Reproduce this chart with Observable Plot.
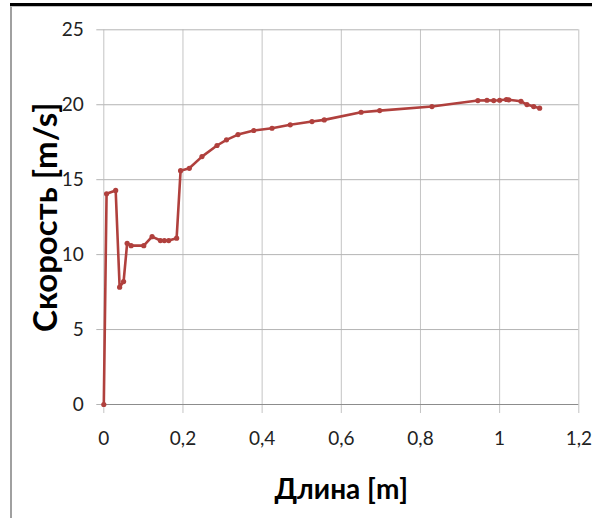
<!DOCTYPE html>
<html>
<head>
<meta charset="utf-8">
<script src="https://cdn.jsdelivr.net/npm/d3@7"></script>
<script src="https://cdn.jsdelivr.net/npm/@observablehq/plot@0.6"></script>
<style>
  html, body { margin: 0; padding: 0; background: #fff; }
  #wrap { position: relative; width: 592px; height: 518px; overflow: hidden; }
  #topline { position: absolute; left: 10px; top: 3px; width: 582px; height: 3px; background: #000; }
  #box { position: absolute; left: 10px; top: 6px; width: 590px; height: 520px; border-left: 2px solid #a0a0a0; border-top: 1px solid #c0c0c0; }
  #chart { position: absolute; left: 0; top: 0; }
  svg { font-family: Lato, "Open Sans", sans-serif; }
</style>
</head>
<body>
<div id="wrap">
  <div id="topline"></div>
  <div id="box"></div>
  <div id="chart"></div>
</div>
<script>
const lengthM = [0, 0.007, 0.03, 0.040, 0.050, 0.059, 0.069, 0.101, 0.122, 0.143, 0.153, 0.164, 0.184, 0.194, 0.216, 0.248, 0.286, 0.310, 0.339, 0.379, 0.425, 0.471, 0.526, 0.557, 0.650, 0.697, 0.829, 0.945, 0.968, 0.985, 1.000, 1.017, 1.023, 1.054, 1.069, 1.086, 1.101];
const speed = [0, 14.06, 14.28, 7.83, 8.2, 10.76, 10.6, 10.6, 11.2, 10.94, 10.94, 10.94, 11.1, 15.6, 15.76, 16.54, 17.28, 17.66, 18.01, 18.28, 18.43, 18.66, 18.88, 18.99, 19.5, 19.61, 19.88, 20.28, 20.3, 20.28, 20.3, 20.35, 20.33, 20.23, 20.01, 19.88, 19.77];
const xTicks = [0, 0.2, 0.4, 0.6, 0.8, 1.0, 1.2];
const yTicks = [0, 5, 10, 15, 20, 25];
const xTitle = "Длина [m]";
const yTitle = "Скорость [m/s]";

const data = lengthM.map((x, i) => ({x, y: speed[i]}));
const fmt = d => String(+d.toFixed(1)).replace(".", ",");
const lineColor = "#b0403d";

const chart = Plot.plot({
  width: 592,
  height: 518,
  marginLeft: 103.3,
  marginRight: 13.7,
  marginTop: 29.3,
  marginBottom: 114,
  style: {fontFamily: "Lato, 'Open Sans', sans-serif", background: "transparent", overflow: "visible"},
  x: {domain: [0, 1.2]},
  y: {domain: [0, 25]},
  marks: [
    Plot.gridX(xTicks, {stroke: "#c4c4c4", strokeOpacity: 1, strokeWidth: 1}),
    Plot.gridY(yTicks.filter(d => d !== 0), {stroke: "#b4b4b4", strokeOpacity: 1, strokeWidth: 1}),
    Plot.axisX(xTicks, {tickSize: 9, stroke: "#c4c4c4", tickFormat: fmt, fontSize: 19, tickPadding: 18, fill: "#222", label: null}),
    Plot.axisY(yTicks, {tickSize: 7, stroke: "#b4b4b4", tickFormat: fmt, fontSize: 19, tickPadding: 13, fill: "#222", label: null}),
    Plot.ruleY([0], {stroke: "#8c8c8c", strokeWidth: 1, x1: 0, x2: 1.2}),
    Plot.line(data, {x: "x", y: "y", stroke: lineColor, strokeWidth: 2.6}),
    Plot.dot(data, {x: "x", y: "y", r: 2.6, fill: lineColor, stroke: null}),
    Plot.text([yTitle], {frameAnchor: "left", textAnchor: "middle", lineAnchor: "middle", dx: -57, rotate: -90, fontSize: 33, fontWeight: "bold", fill: "#000", letterSpacing: "1.8px"}),
    Plot.text([xTitle], {frameAnchor: "bottom", textAnchor: "middle", lineAnchor: "middle", dy: 86, fontSize: 28, fontWeight: "bold", fill: "#000"})
  ]
});
document.getElementById("chart").appendChild(chart);
</script>
</body>
</html>
